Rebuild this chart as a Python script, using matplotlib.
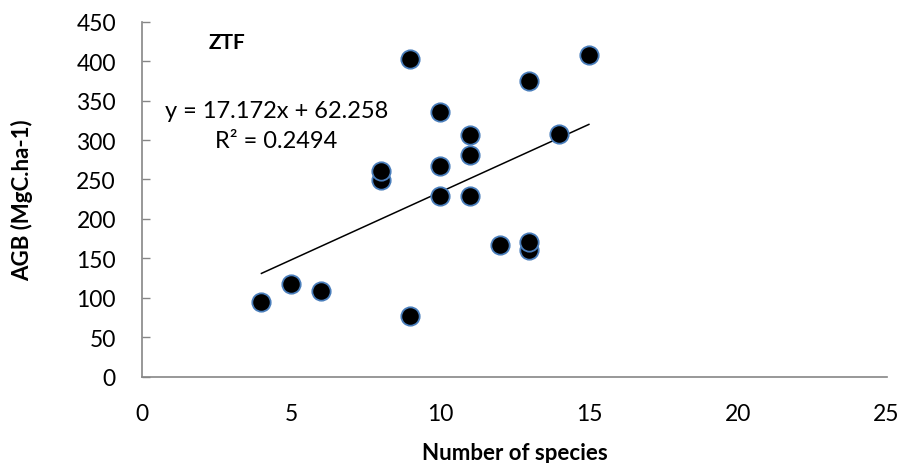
import matplotlib
matplotlib.use('Agg')
import matplotlib.pyplot as plt
from matplotlib.pyplot import MultipleLocator

plt.rcParams['font.family'] = ['Lato', 'DejaVu Sans']

# 物种数与地上生物量
species = [4, 5, 6, 8, 8, 9, 9, 10, 10, 10, 11, 11, 11, 12, 13, 13, 13, 14, 15]
agb = [95, 118, 109, 249, 261, 77, 403, 229, 267, 335, 229, 281, 306, 167, 160, 171, 375, 308, 408]

# 趋势线系数
slope = 17.172
intercept = 62.258
r2 = 0.2494
trend_x = [min(species), max(species)]
trend_y = [slope * v + intercept for v in trend_x]

fig = plt.figure(figsize=(9.01, 4.64), dpi=100)
ax = fig.add_axes([0.158, 0.186, 0.826, 0.765])

ax.scatter(species, agb, s=175, color='black', edgecolors='#4a7ebb', linewidths=1.3, zorder=3)
ax.plot(trend_x, trend_y, color='black', linewidth=1.1, zorder=2)

ax.set_xlim(0, 25)
ax.set_ylim(0, 450)
ax.xaxis.set_major_locator(MultipleLocator(5))
ax.yaxis.set_major_locator(MultipleLocator(50))

for side in ['top', 'right']:
    ax.spines[side].set_visible(False)
for side in ['left', 'bottom']:
    ax.spines[side].set_color('#868686')
    ax.spines[side].set_linewidth(1.2)

ax.tick_params(axis='y', direction='in', length=5.5, width=1.0, color='#868686', labelsize=16.5, pad=19)
ax.tick_params(axis='x', length=0, labelsize=16.5, pad=19)

ax.set_xlabel('Number of species', fontsize=16, fontweight='bold')
ax.set_ylabel('AGB (MgC.ha-1)', fontsize=16, fontweight='bold')
ax.xaxis.set_label_coords(0.5, -0.183)
ax.yaxis.set_label_coords(-0.147, 0.5)

ax.text(2.85, 424, 'ZTF', fontsize=15, fontweight='bold', ha='center', va='center')
ax.text(4.5, 337, 'y = %.3fx + %.3f' % (slope, intercept), fontsize=17, ha='center', va='center')
ax.text(4.5, 299, 'R² = %.4f' % r2, fontsize=17, ha='center', va='center')

fig.savefig('out.png', dpi=100)
